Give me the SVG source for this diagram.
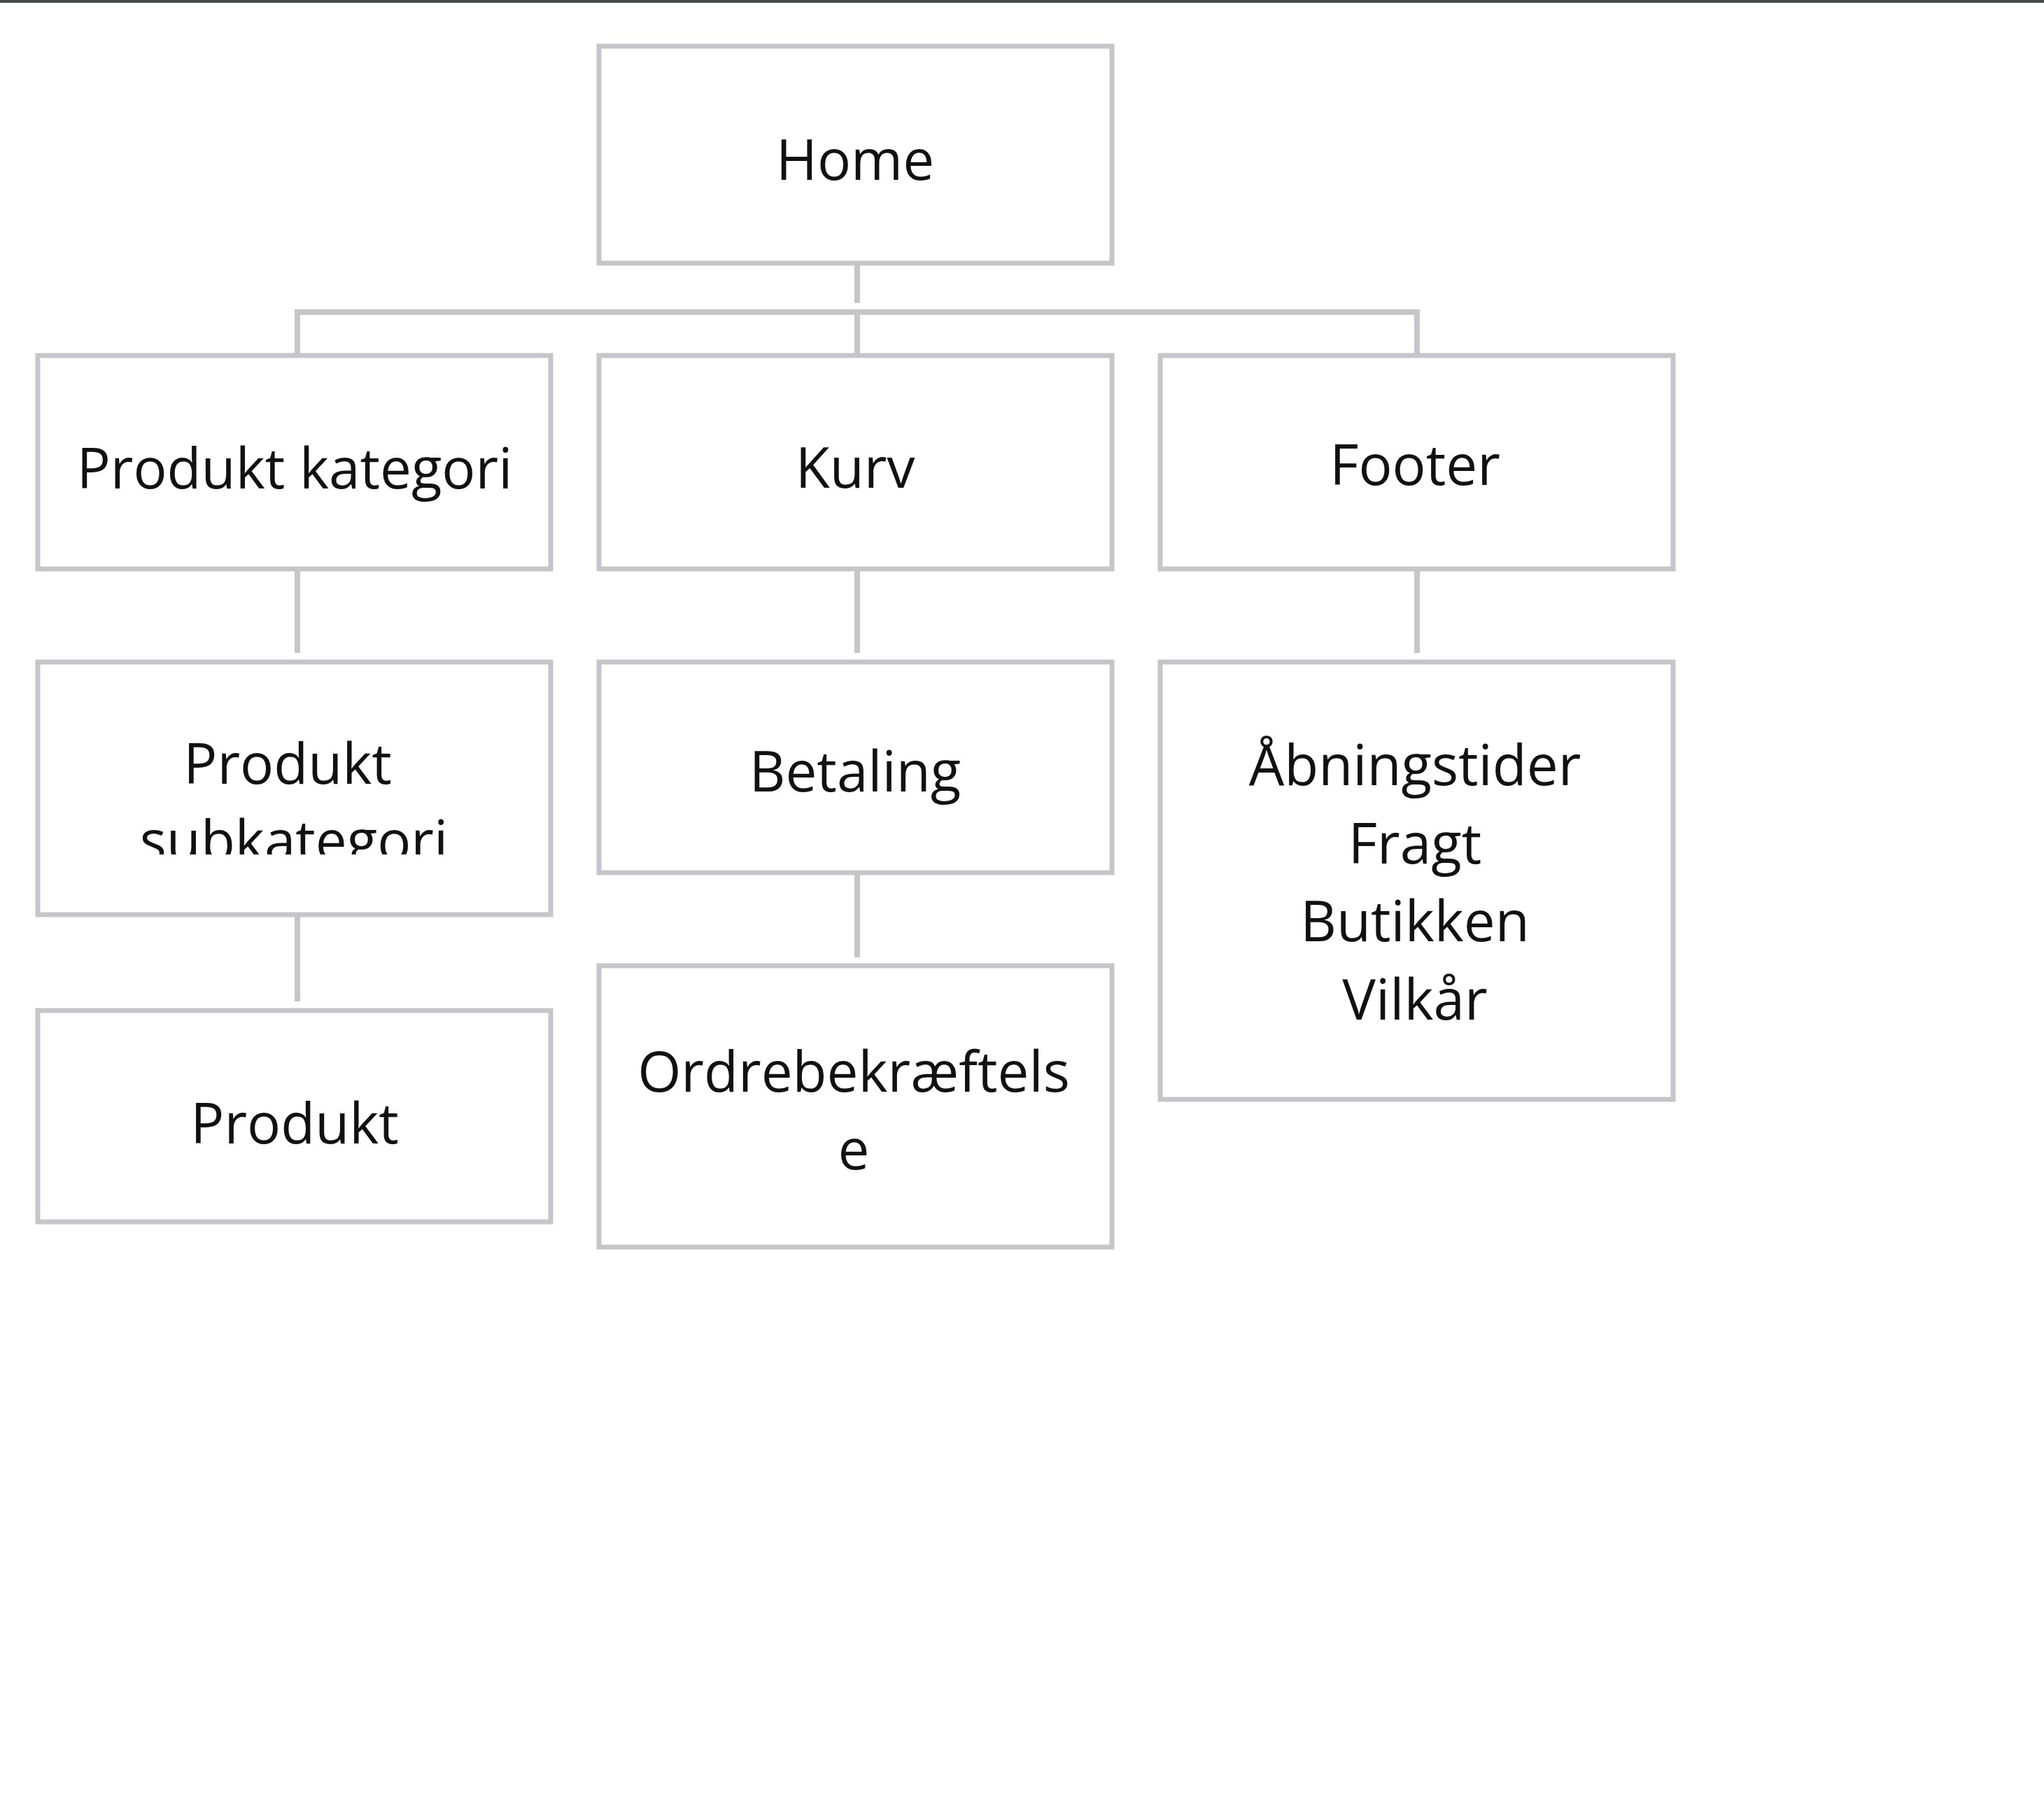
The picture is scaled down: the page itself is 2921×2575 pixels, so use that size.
<svg xmlns="http://www.w3.org/2000/svg" width="2921" height="2575" viewBox="0 0 2921 2575">
<style>
.box{fill:#ffffff;stroke:#c6c6ca;stroke-width:7}
.lbl{font-family:"Open Sans","Noto Sans","DejaVu Sans",sans-serif;font-size:80px;fill:#111111;text-anchor:middle}
.con{stroke:#c6c6ca;stroke-width:8;fill:none}
</style>
<defs>
<clipPath id="clipSub"><rect x="54" y="946" width="733" height="275"/></clipPath>
</defs>
<rect x="0" y="0" width="2921" height="2575" fill="#ffffff"/>
<rect x="0" y="0" width="2921" height="4" fill="#45484c"/>
<g id="connectors">
<line class="con" x1="1225" y1="379" x2="1225" y2="433"/>
<line class="con" x1="421" y1="446" x2="2029" y2="446"/>
<line class="con" x1="425" y1="446" x2="425" y2="505"/>
<line class="con" x1="1225" y1="446" x2="1225" y2="505"/>
<line class="con" x1="2025" y1="446" x2="2025" y2="505"/>
<line class="con" x1="425" y1="816" x2="425" y2="933"/>
<line class="con" x1="1225" y1="816" x2="1225" y2="933"/>
<line class="con" x1="2025" y1="816" x2="2025" y2="933"/>
<line class="con" x1="425" y1="1310" x2="425" y2="1431"/>
<line class="con" x1="1225" y1="1250" x2="1225" y2="1368"/>
</g>
<g id="home">
<rect class="box" x="856" y="66" width="733" height="310"/>
<text class="lbl" x="1222" y="257">Home</text>
</g>
<g id="produkt-kategori">
<rect class="box" x="54" y="508" width="733" height="305"/>
<text class="lbl" x="421" y="698">Produkt kategori</text>
</g>
<g id="kurv">
<rect class="box" x="856" y="508" width="733" height="305"/>
<text class="lbl" x="1222" y="697">Kurv</text>
</g>
<g id="footer">
<rect class="box" x="1658" y="508" width="733" height="305"/>
<text class="lbl" x="2022" y="693">Footer</text>
</g>
<g id="produkt-subkategori">
<rect class="box" x="54" y="946" width="733" height="361"/>
<text class="lbl" x="411" y="1120">Produkt</text>
<text class="lbl" x="420" y="1230" clip-path="url(#clipSub)">subkategori</text>
</g>
<g id="betaling">
<rect class="box" x="856" y="946" width="733" height="301"/>
<text class="lbl" x="1222" y="1131">Betaling</text>
</g>
<g id="footer-links">
<rect class="box" x="1658" y="946" width="733" height="625"/>
<text class="lbl" x="2022" y="1122">Åbningstider</text>
<text class="lbl" x="2022" y="1234">Fragt</text>
<text class="lbl" x="2022" y="1345">Butikken</text>
<text class="lbl" x="2022" y="1457">Vilkår</text>
</g>
<g id="produkt">
<rect class="box" x="54" y="1444" width="733" height="302"/>
<text class="lbl" x="421" y="1634">Produkt</text>
</g>
<g id="ordrebekraeftelse">
<rect class="box" x="856" y="1380" width="733" height="402"/>
<text class="lbl" x="1220" y="1560">Ordrebekræftels</text>
<text class="lbl" x="1220" y="1671">e</text>
</g>
</svg>
